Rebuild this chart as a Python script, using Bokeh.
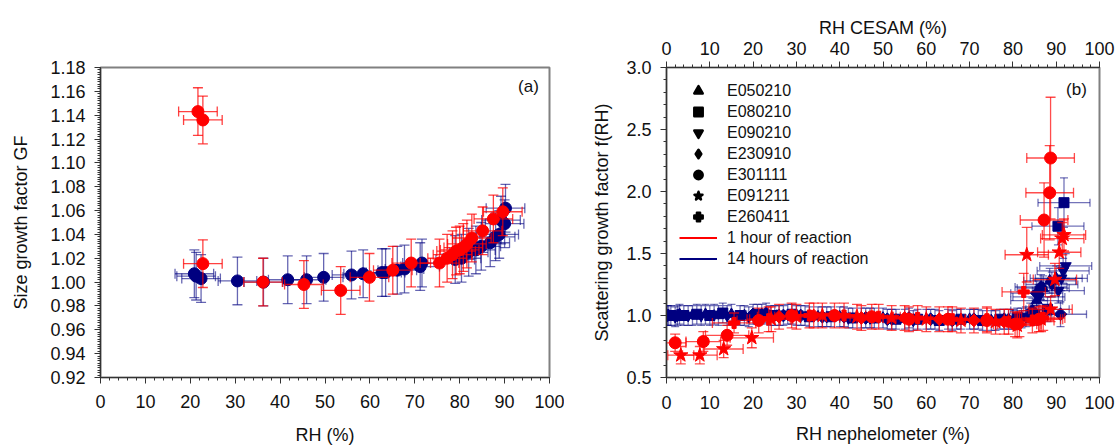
import numpy as np
from bokeh.plotting import figure
from bokeh.models import (ColumnDataSource, FixedTicker, NumeralTickFormatter, LinearAxis,
                          Label, Legend, LegendItem, Range1d)
from bokeh.layouts import row
from bokeh.embed import file_html
from bokeh.resources import INLINE

FONT = "Liberation Sans"
RED = "#ff0000"
NAVY = "#000080"

# ---------------- Panel (a) data: size growth factor GF vs RH ----------------
A_RED_RH = [21.7, 22.8, 22.8, 36.2, 45.3, 53.5, 59.9, 65.1, 69.2, 75.5, 77.2, 78.4,
            79.2, 80.0, 80.8, 81.6, 82.7, 85.1, 87.5, 89.6]
A_RED_GF = [1.143, 1.136, 1.0155, 1.000, 0.998, 0.993, 1.004, 1.010, 1.016, 1.016, 1.020,
            1.023, 1.026, 1.027, 1.029, 1.032, 1.037, 1.043, 1.053, 1.059]
A_BLUE_RH = [20.9, 21.3, 22.4, 30.5, 36.3, 41.7, 45.9, 49.7, 55.9, 58.5, 62.7, 63.5, 66.1,
             67.7, 71.2, 71.6, 79.0, 80.4, 82.0, 83.6, 84.8, 86.8, 88.0, 88.8, 89.2, 90.0, 90.2]
A_BLUE_GF = [1.007, 1.005, 1.003, 1.001, 1.000, 1.002, 1.002, 1.004, 1.006, 1.007, 1.008,
             1.008, 1.010, 1.011, 1.013, 1.016, 1.019, 1.020, 1.025, 1.027, 1.030, 1.033,
             1.038, 1.040, 1.052, 1.049, 1.062]
A_RH_ERR = 4.3
A_GF_ERR = 0.02

# ---------------- Panel (b) data: scattering growth factor f(RH) ----------------
# 14 hours of reaction (navy)
E050210_RH = [0.5, 3, 6, 9, 12, 15, 18, 22, 26, 30, 35, 40, 45, 50, 55, 60, 65, 70, 75, 79,
              82, 84, 85.5, 87, 88.5, 90]
E050210_F = [1.00, 1.01, 1.00, 1.01, 1.00, 1.01, 1.00, 1.01, 1.00, 1.00, 0.99, 0.99, 0.98,
             0.98, 0.97, 0.97, 0.97, 0.97, 0.96, 0.97, 0.98, 1.02, 1.12, 1.22, 1.28, 1.30]
E050210_RH_ERR = [2, 2, 2, 2, 2, 2, 2.5, 2.5, 2.5, 2.5, 3, 3, 3, 3, 3, 3, 3, 3, 3, 3, 3, 4,
                  6, 6, 6, 6]
E050210_F_ERR = [0.08, 0.08, 0.08, 0.08, 0.08, 0.08, 0.08, 0.08, 0.08, 0.08, 0.08, 0.08, 0.08,
                 0.08, 0.08, 0.08, 0.08, 0.08, 0.08, 0.08, 0.08, 0.08, 0.1, 0.1, 0.1, 0.1]

E080210_RH = [1, 4, 7, 10, 13, 17, 21, 25, 29, 33, 38, 43, 48, 53, 58, 63, 68, 73, 77, 81,
              85, 88, 90.4, 91.8]
E080210_F = [1.00, 1.00, 1.01, 1.00, 1.02, 1.00, 1.01, 1.00, 1.01, 0.99, 0.99, 0.98, 0.98,
             0.97, 0.97, 0.96, 0.97, 0.96, 0.97, 0.98, 1.00, 1.05, 1.72, 1.91]
E080210_RH_ERR = [2, 2, 2, 2, 2, 2.5, 2.5, 2.5, 2.5, 3, 3, 3, 3, 3, 3, 3, 3, 3, 3, 3, 4, 5,
                  6, 6]
E080210_F_ERR = [0.08, 0.08, 0.08, 0.08, 0.08, 0.08, 0.08, 0.08, 0.08, 0.08, 0.08, 0.08, 0.08,
                 0.08, 0.08, 0.08, 0.08, 0.08, 0.08, 0.08, 0.08, 0.1, 0.15, 0.2]

E090210_RH = [2, 5, 8, 11, 14, 19, 24, 28, 32, 37, 42, 47, 52, 57, 62, 67, 72, 76, 80, 83,
              86, 89, 90.5, 91.2, 91.6, 92.2]
E090210_F = [0.99, 1.00, 1.00, 1.01, 1.00, 0.99, 1.00, 1.01, 1.00, 0.99, 0.98, 0.98, 0.97,
             0.96, 0.97, 0.97, 0.97, 0.96, 0.97, 0.99, 1.15, 1.25, 1.20, 1.30, 1.36, 1.40]
E090210_RH_ERR = [2, 2, 2, 2, 2, 2.5, 2.5, 2.5, 3, 3, 3, 3, 3, 3, 3, 3, 3, 3, 3, 4, 6, 6, 6,
                  6, 6, 6]
E090210_F_ERR = [0.08, 0.08, 0.08, 0.08, 0.08, 0.08, 0.08, 0.08, 0.08, 0.08, 0.08, 0.08, 0.08,
                 0.08, 0.08, 0.08, 0.08, 0.08, 0.08, 0.08, 0.1, 0.1, 0.1, 0.1, 0.1, 0.1]

E230910_RH = [0.2, 2.5, 20, 23, 27, 31, 36, 41, 46, 51, 56, 61, 66, 71, 78, 84.5, 85.5, 86.5, 91]
E230910_F = [1.00, 1.00, 1.01, 1.02, 1.00, 1.00, 0.99, 0.99, 0.98, 0.97, 0.98, 0.97, 0.96,
             0.97, 0.97, 1.04, 1.18, 1.23, 1.01]
E230910_RH_ERR = [2, 2, 2.5, 2.5, 2.5, 3, 3, 3, 3, 3, 3, 3, 3, 3, 3, 5, 6, 6, 6]
E230910_F_ERR = [0.08, 0.08, 0.08, 0.08, 0.08, 0.08, 0.08, 0.08, 0.08, 0.08, 0.08, 0.08, 0.08,
                 0.08, 0.08, 0.1, 0.1, 0.1, 0.1]

# 1 hour of reaction (red)
E301111_RH = [2.0, 8.5, 14.0, 21.3, 28.9, 38.8, 47.4, 56, 65, 74, 80.5, 86, 87.2, 88.5, 88.7]
E301111_F = [0.78, 0.79, 0.84, 0.96, 1.00, 1.00, 0.99, 0.97, 0.97, 0.96, 0.93, 0.97, 1.77,
             1.99, 2.27]
E301111_RH_ERR = [2.5, 4, 5, 5, 5, 5, 5, 5, 5, 5, 5, 5, 5.5, 5.5, 5.5]
E301111_F_ERR = [0.07, 0.08, 0.08, 0.1, 0.1, 0.1, 0.1, 0.1, 0.1, 0.1, 0.1, 0.1, 0.30, 0.38,
                 0.49]

E091211_RH = [3.3, 7.7, 13.2, 19.7, 24.2, 30, 36, 44, 52, 60, 68, 76, 81, 86.5, 88.7, 89.7,
              90.7, 91.4, 91.8, 83.2]
E091211_F = [0.68, 0.68, 0.73, 0.82, 0.97, 0.99, 1.00, 0.99, 0.98, 0.97, 0.96, 0.95, 0.92,
             0.97, 1.05, 1.29, 1.51, 1.62, 1.65, 1.49]
E091211_RH_ERR = [3, 4, 4.5, 5, 5, 5, 5, 5, 5, 5, 5, 5, 5, 5, 5, 5, 5, 5, 5, 5]
E091211_F_ERR = [0.07, 0.07, 0.07, 0.08, 0.1, 0.1, 0.1, 0.1, 0.1, 0.1, 0.1, 0.1, 0.1, 0.1,
                 0.1, 0.13, 0.13, 0.13, 0.13, 0.22]

E260411_RH = [15.6, 23.6, 33, 41, 49, 58, 66, 74, 79, 82.5, 84.5, 87]
E260411_F = [0.94, 0.97, 1.00, 1.00, 0.99, 0.98, 0.97, 0.97, 0.95, 1.19, 0.96, 0.98]
E260411_RH_ERR = [5, 5, 5, 5, 5, 5, 5, 5, 5, 5, 5, 5]
E260411_F_ERR = [0.08, 0.1, 0.1, 0.1, 0.1, 0.1, 0.1, 0.1, 0.1, 0.15, 0.1, 0.1]

E230910_RED_RH = [26, 34, 45, 55, 63, 71, 78, 81.5]
E230910_RED_F = [0.99, 1.00, 0.98, 0.98, 0.97, 0.96, 0.95, 0.93]
E230910_RED_RH_ERR = [5, 5, 5, 5, 5, 5, 5, 5]
E230910_RED_F_ERR = [0.1, 0.1, 0.1, 0.1, 0.1, 0.1, 0.1, 0.1]

LEGEND_LABELS = ["E050210", "E080210", "E090210", "E230910", "E301111", "E091211", "E260411"]
LEGEND_MARKERS = ["triangle", "square", "inverted_triangle", "diamond", "circle", "star", "plus"]
LEGEND_LINES = ["1 hour of reaction", "14 hours of reaction"]


def as_list(v, n):
    return list(v) if isinstance(v, (list, tuple)) else [v] * n


def draw_points(p, xs, ys, xerr, yerr, marker, color, size, bar_alpha, cap, lw=1.3, angle=0.0):
    n = len(xs)
    xe = as_list(xerr, n)
    ye = as_list(yerr, n)
    src = ColumnDataSource(dict(
        x=xs, y=ys,
        xl=[a - e for a, e in zip(xs, xe)], xh=[a + e for a, e in zip(xs, xe)],
        yl=[a - e for a, e in zip(ys, ye)], yh=[a + e for a, e in zip(ys, ye)]))
    bar = dict(source=src, line_color=color, line_alpha=bar_alpha, line_width=lw)
    p.segment("xl", "y", "xh", "y", **bar)
    p.segment("x", "yl", "x", "yh", **bar)
    p.scatter("x", "yl", marker="dash", size=cap, **bar)
    p.scatter("x", "yh", marker="dash", size=cap, **bar)
    p.scatter("xl", "y", marker="dash", angle=np.pi / 2, size=cap, **bar)
    p.scatter("xh", "y", marker="dash", angle=np.pi / 2, size=cap, **bar)
    p.scatter("x", "y", marker=marker, size=size, angle=angle, fill_color=color,
              line_color=color, source=src)


def style_axis(ax, label="", label_standoff=10, fmt=None, tick_standoff=10):
    ax.major_label_text_font = FONT
    ax.major_label_text_font_size = "18px"
    ax.major_label_text_color = "#111111"
    ax.major_label_standoff = tick_standoff
    ax.axis_line_color = "#333333"
    ax.axis_line_width = 1.2
    ax.major_tick_line_color = "#333333"
    ax.minor_tick_line_color = "#333333"
    ax.major_tick_out = 6
    ax.major_tick_in = 0
    ax.minor_tick_out = 3
    ax.minor_tick_in = 0
    ax.axis_label = label
    ax.axis_label_text_font = FONT
    ax.axis_label_text_font_size = "18px"
    ax.axis_label_text_font_style = "normal"
    ax.axis_label_text_color = "#111111"
    ax.axis_label_standoff = label_standoff
    if fmt:
        ax.formatter = NumeralTickFormatter(format=fmt)


def add_label(p, x, y, text, size="17px"):
    p.add_layout(Label(x=x, y=y, x_units="screen", y_units="screen", text=text,
                       text_font=FONT, text_font_size=size, text_color="#111111",
                       text_align="center", text_baseline="middle"))


# ---------------- Figure (a) ----------------
pa = figure(width=564, height=448, x_range=Range1d(0, 100), y_range=Range1d(0.92, 1.18),
            output_backend="svg", toolbar_location=None,
            min_border_left=100, min_border_right=15, min_border_top=65, min_border_bottom=71)
pa.xgrid.visible = False
pa.ygrid.visible = False
pa.outline_line_color = "#808080"
pa.outline_line_width = 2
pa.background_fill_color = "white"
pa.border_fill_color = "white"

pa.xaxis.ticker = FixedTicker(ticks=list(np.arange(0, 101, 10)),
                              minor_ticks=list(np.arange(0, 101, 2)))
pa.yaxis.ticker = FixedTicker(ticks=list(np.round(np.arange(0.92, 1.181, 0.02), 3)),
                              minor_ticks=list(np.round(np.arange(0.92, 1.181, 0.002), 4)))
style_axis(pa.xaxis[0], "RH (%)", label_standoff=14, tick_standoff=11)
style_axis(pa.yaxis[0], "Size growth factor GF", label_standoff=16, fmt="0.00", tick_standoff=9)

draw_points(pa, A_BLUE_RH, A_BLUE_GF, A_RH_ERR, A_GF_ERR, "circle", NAVY, 12, 0.6, 10)
draw_points(pa, A_RED_RH, A_RED_GF, A_RH_ERR, A_GF_ERR, "circle", RED, 12, 0.75, 10)

add_label(pa, 428, 291, "(a)")

# ---------------- Figure (b) ----------------
pb = figure(width=551, height=448, x_range=Range1d(0, 100), y_range=Range1d(0.5, 3.0),
            output_backend="svg", toolbar_location=None,
            min_border_left=102, min_border_right=16, min_border_top=67, min_border_bottom=68)
pb.xgrid.visible = False
pb.ygrid.visible = False
pb.outline_line_color = "#808080"
pb.outline_line_width = 2
pb.background_fill_color = "white"
pb.border_fill_color = "white"

pb.xaxis.ticker = FixedTicker(ticks=list(np.arange(0, 101, 10)),
                              minor_ticks=list(np.arange(0, 101, 2)))
pb.yaxis.ticker = FixedTicker(ticks=[0.5, 1.0, 1.5, 2.0, 2.5, 3.0],
                              minor_ticks=list(np.round(np.arange(0.5, 3.01, 0.1), 2)))
style_axis(pb.xaxis[0], "RH nephelometer (%)", label_standoff=12, tick_standoff=12)
style_axis(pb.yaxis[0], "Scattering growth factor f(RH)", label_standoff=11, fmt="0.0",
           tick_standoff=9)
top_axis = LinearAxis(ticker=FixedTicker(ticks=list(np.arange(0, 101, 10)),
                                         minor_ticks=list(np.arange(0, 101, 2))))
style_axis(top_axis, "RH CESAM (%)", label_standoff=1, tick_standoff=7)
pb.add_layout(top_axis, "above")

# 14 hours (navy) first, then 1 hour (red) on top
draw_points(pb, E050210_RH, E050210_F, E050210_RH_ERR, E050210_F_ERR, "triangle", NAVY, 11, 0.55, 8)
draw_points(pb, E080210_RH, E080210_F, E080210_RH_ERR, E080210_F_ERR, "square", NAVY, 10, 0.55, 8)
draw_points(pb, E090210_RH, E090210_F, E090210_RH_ERR, E090210_F_ERR, "inverted_triangle", NAVY, 11, 0.55, 8)
draw_points(pb, E230910_RH, E230910_F, E230910_RH_ERR, E230910_F_ERR, "square", NAVY, 9, 0.55, 8,
            angle=np.pi / 4)
draw_points(pb, E230910_RED_RH, E230910_RED_F, E230910_RED_RH_ERR, E230910_RED_F_ERR, "square", RED, 9,
            0.7, 10, angle=np.pi / 4)
draw_points(pb, E260411_RH, E260411_F, E260411_RH_ERR, E260411_F_ERR, "plus", RED, 11, 0.7, 10)
draw_points(pb, E091211_RH, E091211_F, E091211_RH_ERR, E091211_F_ERR, "star", RED, 15, 0.7, 10)
draw_points(pb, E301111_RH, E301111_F, E301111_RH_ERR, E301111_F_ERR, "circle", RED, 12, 0.7, 10)

# legend (black symbols + coloured lines); proxy renderers hold a single NaN point.
# A thick black outline enlarges the legend symbols.
items = []
for lab, mk in zip(LEGEND_LABELS, LEGEND_MARKERS):
    r = pb.scatter(x=[np.nan], y=[np.nan], marker=mk, size=11, fill_color="black",
                   line_color="black", line_width=2.5, line_join="round")
    items.append(LegendItem(label=lab, renderers=[r]))
for lab, col in zip(LEGEND_LINES, [RED, NAVY]):
    r = pb.line(x=[np.nan, np.nan], y=[np.nan, np.nan], line_color=col, line_width=2)
    items.append(LegendItem(label=lab, renderers=[r]))
leg = Legend(items=items, location="top_left", margin=13, padding=0, spacing=0,
             glyph_width=38, glyph_height=21, label_height=21, label_standoff=10,
             label_text_font=FONT, label_text_font_size="16px", label_text_color="#111111",
             border_line_color=None, background_fill_alpha=0)
pb.add_layout(leg)

add_label(pb, 410, 288, "(b)")

layout = row(pa, pb, spacing=0)
open("out.html", "w").write(file_html(layout, INLINE))
